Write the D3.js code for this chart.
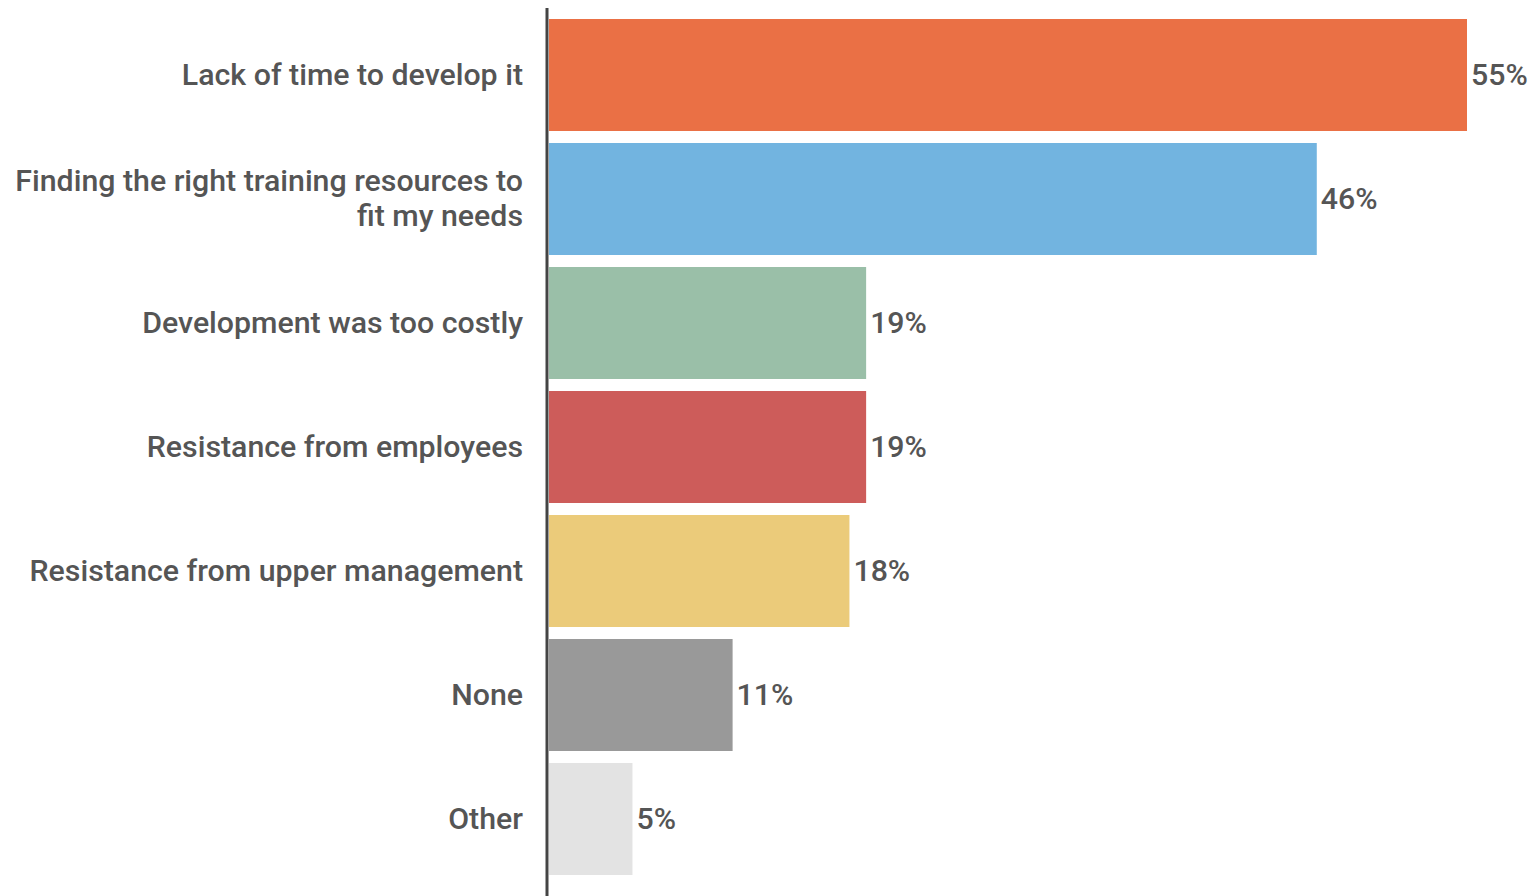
<!DOCTYPE html>
<html lang="en">
<head>
  <meta charset="UTF-8">
  <title>Development barriers</title>
  <script src="https://d3js.org/d3.v7.min.js"></script>
  <style>
    body { margin: 0; background: #fff; }
    .label { font-family: Roboto, sans-serif; font-weight: 500; font-size: 30.3px; fill: #555; }
    .value { font-family: Roboto, sans-serif; font-weight: 500; font-size: 30.3px; fill: #555; }
  </style>
</head>
<body>
  <svg id="chart"></svg>
  <script>
    // data
    const categories = [
      "Lack of time to develop it",
      "Finding the right training resources to fit my needs",
      "Development was too costly",
      "Resistance from employees",
      "Resistance from upper management",
      "None",
      "Other"
    ];
    const values = [55, 46, 19, 19, 18, 11, 5];
    const colors = ["#ea7045", "#72b4e0", "#9abfa8", "#cd5c5a", "#ebcb7a", "#999999", "#e3e3e3"];
    // multi-line labels as wrapped in the reference
    const labelLines = {
      "Finding the right training resources to fit my needs": ["Finding the right training resources to", "fit my needs"]
    };

    const width = 1534, height = 896;
    const svg = d3.select("#chart").attr("width", width).attr("height", height);

    const x0 = 549;
    const x = d3.scaleLinear().domain([0, 55]).range([x0, 1467]);
    const y = d3.scaleBand().domain(categories).range([13, 881]).paddingInner(12 / 124).paddingOuter(6 / 124);

    svg.selectAll("rect.bar")
      .data(categories)
      .join("rect")
      .attr("class", "bar")
      .attr("x", x0)
      .attr("y", d => y(d))
      .attr("width", (d, i) => x(values[i]) - x0)
      .attr("height", y.bandwidth())
      .attr("fill", (d, i) => colors[i]);

    // axis line
    svg.append("line")
      .attr("x1", 547).attr("x2", 547)
      .attr("y1", 8).attr("y2", height)
      .attr("stroke", "#444").attr("stroke-width", 3);

    // category labels
    const lh = 35;
    svg.selectAll("text.label")
      .data(categories)
      .join("text")
      .attr("class", "label")
      .attr("text-anchor", "end")
      .each(function(d) {
        const lines = labelLines[d] || [d];
        const cy = y(d) + y.bandwidth() / 2;
        const top = cy - (lines.length - 1) * lh / 2;
        d3.select(this).selectAll("tspan")
          .data(lines)
          .join("tspan")
          .attr("x", 523)
          .attr("y", (l, j) => top + j * lh)
          .attr("dy", "0.33em")
          .text(l => l);
      });

    // value labels
    svg.selectAll("text.value")
      .data(categories)
      .join("text")
      .attr("class", "value")
      .attr("x", (d, i) => x(values[i]) + 4)
      .attr("y", d => y(d) + y.bandwidth() / 2)
      .attr("dy", "0.33em")
      .text((d, i) => values[i] + "%");
  </script>
</body>
</html>
